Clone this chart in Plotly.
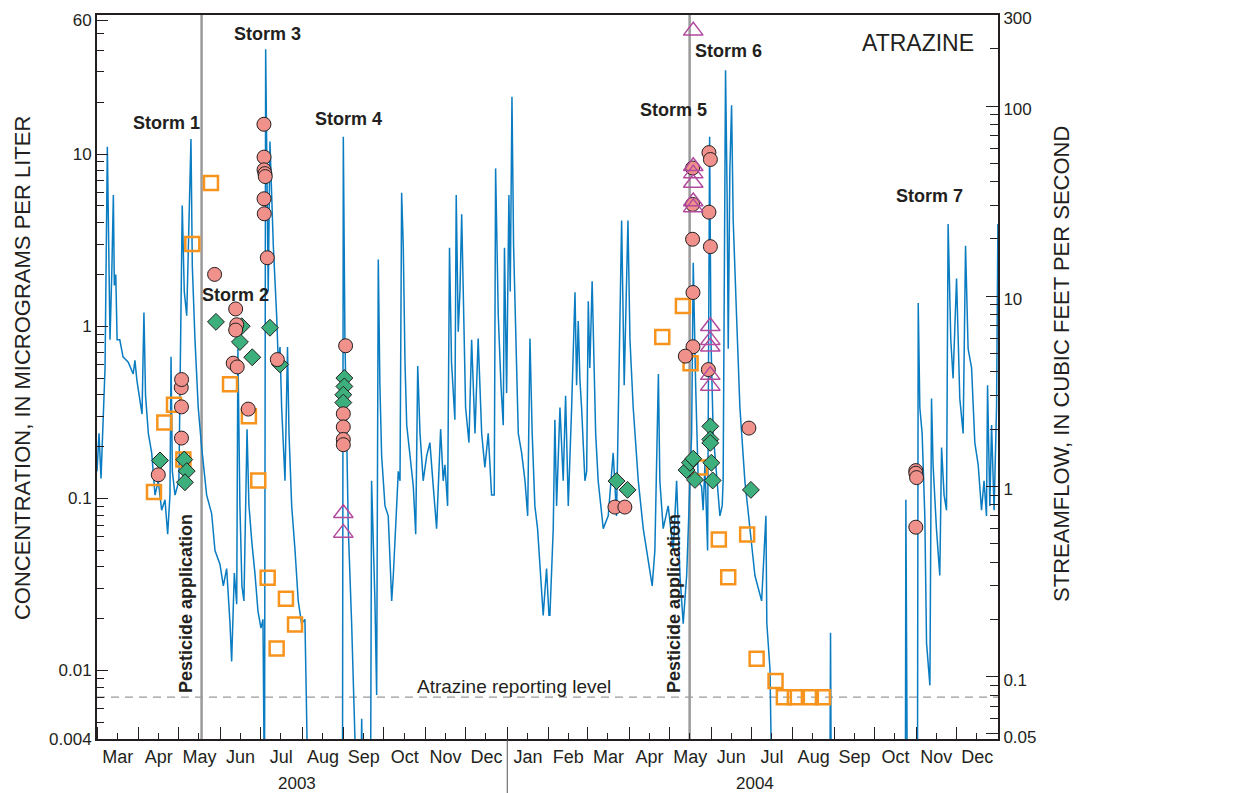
import plotly.graph_objects as go

# ---------------- data ----------------
# Streamflow hydrograph (cubic feet per second); values below the axis floor are off-scale lows
flow_dates = [
    "2003-03-01 00:00", "2003-03-02 12:00", "2003-03-04 00:00", "2003-03-05 17:00", "2003-03-07 00:00",
    "2003-03-08 17:00", "2003-03-10 00:00", "2003-03-10 17:00", "2003-03-12 00:00", "2003-03-13 05:00",
    "2003-03-13 22:00", "2003-03-15 00:00", "2003-03-16 00:00", "2003-03-18 00:00", "2003-03-20 10:00",
    "2003-03-24 07:00", "2003-03-28 00:00", "2003-03-29 07:00", "2003-03-30 19:00", "2003-04-02 00:00",
    "2003-04-03 14:00", "2003-04-05 00:00", "2003-04-06 05:00", "2003-04-08 07:00", "2003-04-10 19:00",
    "2003-04-13 07:00", "2003-04-15 17:00", "2003-04-18 05:00", "2003-04-20 17:00", "2003-04-22 17:00",
    "2003-04-24 10:00", "2003-04-25 05:00", "2003-04-26 05:00", "2003-04-28 05:00", "2003-05-01 02:00",
    "2003-05-03 14:00", "2003-05-05 02:00", "2003-05-06 22:00", "2003-05-08 02:00", "2003-05-10 02:00",
    "2003-05-11 02:00", "2003-05-13 02:00", "2003-05-15 12:00", "2003-05-18 02:00", "2003-05-21 19:00",
    "2003-05-25 12:00", "2003-05-28 00:00", "2003-05-31 17:00", "2003-06-03 05:00", "2003-06-05 17:00",
    "2003-06-08 05:00", "2003-06-09 10:00", "2003-06-11 10:00", "2003-06-13 05:00", "2003-06-14 02:00",
    "2003-06-15 14:00", "2003-06-17 02:00", "2003-06-18 14:00", "2003-06-20 22:00", "2003-06-22 07:00",
    "2003-06-24 14:00", "2003-06-26 19:00", "2003-06-29 02:00", "2003-07-01 07:00", "2003-07-02 19:00",
    "2003-07-03 22:00", "2003-07-04 19:00", "2003-07-05 19:00", "2003-07-06 17:00", "2003-07-08 00:00",
    "2003-07-09 07:00", "2003-07-10 12:00", "2003-07-13 00:00", "2003-07-14 05:00", "2003-07-15 12:00",
    "2003-07-16 17:00", "2003-07-19 05:00", "2003-07-21 02:00", "2003-07-22 05:00", "2003-07-24 05:00",
    "2003-07-26 17:00", "2003-07-29 02:00", "2003-07-31 14:00", "2003-08-03 02:00", "2003-08-05 14:00",
    "2003-08-31 02:00", "2003-08-31 17:00", "2003-09-01 22:00", "2003-09-03 05:00", "2003-09-04 10:00",
    "2003-09-06 22:00", "2003-09-09 10:00", "2003-09-10 22:00", "2003-09-13 12:00", "2003-09-14 10:00",
    "2003-09-15 10:00", "2003-09-21 00:00", "2003-09-21 19:00", "2003-09-23 00:00", "2003-09-24 07:00",
    "2003-09-25 14:00", "2003-09-26 19:00", "2003-09-28 00:00", "2003-09-29 07:00", "2003-10-01 19:00",
    "2003-10-04 05:00", "2003-10-06 19:00", "2003-10-08 00:00", "2003-10-10 12:00", "2003-10-11 17:00",
    "2003-10-13 00:00", "2003-10-14 05:00", "2003-10-15 10:00", "2003-10-16 17:00", "2003-10-18 00:00",
    "2003-10-20 10:00", "2003-10-22 22:00", "2003-10-24 17:00", "2003-10-26 05:00", "2003-10-27 22:00",
    "2003-10-30 07:00", "2003-11-01 22:00", "2003-11-04 07:00", "2003-11-06 19:00", "2003-11-09 07:00",
    "2003-11-12 07:00", "2003-11-14 05:00", "2003-11-15 12:00", "2003-11-17 12:00", "2003-11-18 22:00",
    "2003-11-20 10:00", "2003-11-22 22:00", "2003-11-23 22:00", "2003-11-25 10:00", "2003-11-26 17:00",
    "2003-11-28 00:00", "2003-11-29 05:00", "2003-11-30 22:00", "2003-12-03 10:00", "2003-12-05 10:00",
    "2003-12-07 22:00", "2003-12-10 07:00", "2003-12-12 22:00", "2003-12-15 07:00", "2003-12-17 19:00",
    "2003-12-20 07:00", "2003-12-22 07:00", "2003-12-23 07:00", "2003-12-25 07:00", "2003-12-27 07:00",
    "2003-12-29 00:00", "2003-12-29 22:00", "2003-12-31 12:00", "2004-01-02 05:00", "2004-01-03 05:00",
    "2004-01-04 12:00", "2004-01-05 17:00", "2004-01-07 05:00", "2004-01-09 05:00", "2004-01-11 17:00",
    "2004-01-14 05:00", "2004-01-16 05:00", "2004-01-17 22:00", "2004-01-19 14:00", "2004-01-21 14:00",
    "2004-01-23 14:00", "2004-01-25 07:00", "2004-01-27 19:00", "2004-01-30 07:00", "2004-02-01 02:00",
    "2004-02-01 19:00", "2004-02-04 07:00", "2004-02-05 12:00", "2004-02-06 19:00", "2004-02-09 07:00",
    "2004-02-11 17:00", "2004-02-13 12:00", "2004-02-15 12:00", "2004-02-18 00:00", "2004-02-20 12:00",
    "2004-02-21 17:00", "2004-02-22 22:00", "2004-02-24 05:00", "2004-02-25 10:00", "2004-02-27 22:00",
    "2004-02-29 05:00", "2004-03-01 10:00", "2004-03-02 14:00", "2004-03-04 07:00", "2004-03-06 22:00",
    "2004-03-08 19:00", "2004-03-12 14:00", "2004-03-16 07:00", "2004-03-20 00:00", "2004-03-22 12:00",
    "2004-03-26 07:00", "2004-03-28 05:00", "2004-03-31 00:00", "2004-04-01 12:00", "2004-04-03 22:00",
    "2004-04-07 17:00", "2004-04-11 10:00", "2004-04-15 02:00", "2004-04-18 02:00", "2004-04-20 02:00",
    "2004-04-22 17:00", "2004-04-23 19:00", "2004-04-26 07:00", "2004-04-30 00:00", "2004-05-03 19:00",
    "2004-05-06 07:00", "2004-05-08 19:00", "2004-05-11 05:00", "2004-05-13 19:00", "2004-05-17 12:00",
    "2004-05-18 17:00", "2004-05-20 12:00", "2004-05-22 10:00", "2004-05-24 22:00", "2004-05-26 02:00",
    "2004-05-27 10:00", "2004-05-29 10:00", "2004-05-30 22:00", "2004-05-31 22:00", "2004-06-02 14:00",
    "2004-06-05 02:00", "2004-06-07 14:00", "2004-06-09 07:00", "2004-06-10 00:00", "2004-06-11 19:00",
    "2004-06-13 00:00", "2004-06-13 19:00", "2004-06-15 00:00", "2004-06-16 07:00", "2004-06-17 12:00",
    "2004-06-20 00:00", "2004-06-22 12:00", "2004-06-26 05:00", "2004-06-29 22:00", "2004-07-03 17:00",
    "2004-07-08 17:00", "2004-07-11 22:00", "2004-07-12 14:00", "2004-07-14 22:00", "2004-07-16 14:00",
    "2004-08-28 14:00", "2004-08-29 02:00", "2004-08-29 17:00", "2004-10-23 22:00", "2004-10-24 07:00",
    "2004-10-25 10:00", "2004-11-01 22:00", "2004-11-02 12:00", "2004-11-03 17:00", "2004-11-05 10:00",
    "2004-11-07 10:00", "2004-11-08 17:00", "2004-11-11 05:00", "2004-11-12 10:00", "2004-11-13 14:00",
    "2004-11-16 02:00", "2004-11-18 14:00", "2004-11-19 22:00", "2004-11-21 19:00", "2004-11-23 14:00",
    "2004-11-24 19:00", "2004-11-26 19:00", "2004-11-28 12:00", "2004-12-01 02:00", "2004-12-03 12:00",
    "2004-12-06 00:00", "2004-12-07 19:00", "2004-12-09 17:00", "2004-12-12 07:00", "2004-12-14 17:00",
    "2004-12-17 05:00", "2004-12-19 17:00", "2004-12-21 14:00", "2004-12-23 10:00", "2004-12-24 05:00",
    "2004-12-25 22:00", "2004-12-27 05:00", "2004-12-29 02:00", "2004-12-30 22:00", "2004-12-31 22:00",
]
flow_cfs = [
    1.2, 1.9, 1.1, 2.2, 4.2,
    61, 10.6, 5.9, 13, 34,
    11.4, 13, 5.9, 5.9, 4.8,
    4.5, 3.9, 4.6, 3.6, 2.8,
    2.4, 8.2, 3.0, 1.9, 1.5,
    0.9, 1.07, 0.75, 0.85, 0.56,
    0.9, 4.8, 1.2, 0.9, 1.07,
    30, 10.6, 7.9, 18, 67,
    14.4, 5.9, 2.6, 1.6, 0.9,
    0.72, 0.46, 0.39, 0.3, 0.37,
    0.19, 0.12, 0.35, 0.24, 5.3,
    0.8, 0.3, 0.25, 2.0, 0.8,
    0.5, 0.35, 0.22, 0.18, 0.2,
    0.02, 199, 46, 10.6, 65,
    32.6, 18.4, 7.9, 4.5, 5.4,
    2.6, 1.07, 5.4, 1.9, 0.79,
    0.46, 0.25, 0.19, 0.2, 0.02,
    0.02, 69, 5.9, 1.9, 0.6,
    0.19, 0.06, 0.02, 0.02, 0.06,
    0.02, 0.02, 1.07, 0.6, 0.25,
    0.08, 15.6, 3.4, 1.45, 0.79,
    0.7, 0.25, 0.34, 0.79, 1.2,
    1.07, 35, 18.4, 4.5, 2.1,
    1.5, 1.0, 0.56, 4.3, 1.9,
    1.07, 1.45, 1.7, 1.0, 0.6,
    2.0, 1.07, 1.3, 0.79, 18,
    4.5, 2.24, 34, 6.5, 10.6,
    27, 10.6, 2.6, 1.7, 5.9,
    1.9, 6.0, 1.9, 1.26, 1.9,
    0.9, 0.9, 47, 7.9, 3.4,
    2.1, 18, 3.1, 34, 10.6,
    112, 18.4, 5.9, 1.9, 1.5,
    1.07, 0.7, 6.0, 1.9, 0.79,
    0.6, 0.39, 0.21, 0.37, 0.21,
    0.21, 0.6, 2.24, 0.79, 2.6,
    1.07, 3.0, 0.79, 2.6, 10.5,
    3.4, 7.4, 3.6, 2.6, 1.07,
    1.2, 9.4, 4.2, 12, 1.9,
    1.07, 0.6, 0.7, 1.5, 0.7,
    25, 3.4, 25, 5.9, 2.6,
    1.07, 0.6, 0.41, 0.3, 0.46,
    3.9, 1.07, 0.6, 0.79, 0.46,
    1.07, 0.34, 0.19, 0.34, 1.9,
    15, 3.4, 1.07, 1.0, 0.75,
    1.3, 0.46, 69, 5.9, 1.9,
    1.2, 0.7, 0.79, 1.07, 154,
    32.6, 5.3, 46, 101, 25,
    7.9, 2.6, 1.07, 0.6, 0.34,
    0.25, 0.7, 0.19, 0.11, 0.02,
    0.02, 0.17, 0.02, 0.02, 0.85,
    0.02, 0.02, 9.2, 2.6, 1.9,
    0.7, 0.15, 0.09, 2.9, 1.3,
    0.6, 0.34, 1.6, 0.9, 0.75,
    24, 5.9, 3.7, 12.4, 2.9,
    1.9, 18.4, 5.3, 4.2, 1.7,
    1.3, 0.75, 1.07, 0.7, 3.4,
    0.79, 2.1, 0.75, 2.6, 24,
]

# Atrazine concentrations (micrograms per liter), four sample groups
circle_dates = [
    "2003-04-15 17:00", "2003-05-03 00:00", "2003-05-03 00:00", "2003-05-02 20:00", "2003-05-03 02:00",
    "2003-05-27 17:00", "2003-06-12 10:00", "2003-06-13 05:00", "2003-06-12 10:00", "2003-06-10 14:00",
    "2003-06-13 14:00", "2003-06-21 19:00",
    "2003-07-03 12:00", "2003-07-03 14:00", "2003-07-03 14:00", "2003-07-04 06:00", "2003-07-04 12:00",
    "2003-07-03 14:00", "2003-07-03 18:00", "2003-07-06 00:00", "2003-07-13 12:00",
    "2003-08-31 17:00", "2003-08-31 17:00", "2003-08-31 17:00", "2003-08-31 17:00", "2003-09-02 10:00",
    "2004-03-21 07:00", "2004-03-28 17:00",
    "2004-05-18 05:00", "2004-05-18 05:00", "2004-05-18 05:00", "2004-05-18 12:00", "2004-05-18 12:00",
    "2004-05-12 19:00",
    "2004-05-30 10:00", "2004-05-31 12:00", "2004-05-30 10:00", "2004-05-31 12:00", "2004-05-30 00:00",
    "2004-06-29 05:00",
    "2004-10-31 17:00", "2004-10-31 17:00", "2004-11-01 06:00", "2004-10-31 17:00",
]
circle_conc = [
    0.137, 0.224, 0.34, 0.44, 0.49,
    2.0, 1.26, 1.02, 0.95, 0.61,
    0.58, 0.33,
    14.9, 9.6, 8.1, 7.7, 7.4,
    5.5, 4.5, 2.5, 0.64,
    0.31, 0.26, 0.22, 0.205, 0.77,
    0.089, 0.089,
    8.3, 5.1, 3.2, 1.57, 0.76,
    0.67,
    10.2, 9.3, 4.6, 2.9, 0.56,
    0.256,
    0.145, 0.14, 0.132, 0.068,
]

diamond_dates = [
    "2003-04-17 00:00", "2003-05-05 02:00", "2003-05-06 22:00", "2003-05-05 14:00",
    "2003-05-28 17:00", "2003-06-15 14:00", "2003-06-16 22:00", "2003-06-24 19:00",
    "2003-07-08 00:00", "2003-07-15 12:00",
    "2003-09-01 12:00", "2003-09-01 12:00", "2003-08-31 17:00", "2003-08-31 17:00",
    "2004-03-22 12:00", "2004-03-30 17:00",
    "2004-05-13 17:00", "2004-05-16 05:00", "2004-05-18 17:00", "2004-05-20 00:00",
    "2004-05-31 10:00", "2004-05-31 10:00", "2004-05-31 10:00", "2004-06-01 05:00", "2004-06-02 05:00",
    "2004-06-30 17:00",
]
diamond_conc = [
    0.166, 0.168, 0.144, 0.124,
    1.06, 0.81, 1.0, 0.66,
    0.98, 0.6,
    0.5, 0.447, 0.4, 0.36,
    0.126, 0.112,
    0.146, 0.161, 0.17, 0.128,
    0.262, 0.22, 0.21, 0.161, 0.127,
    0.112,
]

square_dates = [
    "2003-04-12 12:00", "2003-04-20 05:00", "2003-04-27 10:00", "2003-05-04 10:00", "2003-05-11 02:00",
    "2003-05-25 00:00", "2003-06-08 05:00", "2003-06-22 07:00", "2003-06-29 07:00", "2003-07-06 07:00",
    "2003-07-13 00:00", "2003-07-19 22:00", "2003-07-26 17:00",
    "2004-04-25 14:00", "2004-05-11 00:00", "2004-05-16 17:00", "2004-05-23 17:00", "2004-06-06 19:00",
    "2004-06-13 19:00", "2004-06-27 22:00", "2004-07-05 00:00", "2004-07-19 02:00", "2004-07-25 07:00",
    "2004-08-02 12:00", "2004-08-14 10:00", "2004-08-23 10:00",
]
square_conc = [
    0.109, 0.276, 0.35, 0.168, 3.0,
    6.8, 0.46, 0.30, 0.127, 0.0346,
    0.0134, 0.0261, 0.0185,
    0.865, 1.31, 0.61, 0.151, 0.0577,
    0.0348, 0.0616, 0.0117, 0.0087, 0.007,
    0.007, 0.007, 0.007,
]

triangle_dates = [
    "2003-08-31 17:00", "2003-08-31 17:00",
    "2004-05-18 17:00", "2004-05-18 17:00", "2004-05-18 17:00", "2004-05-18 17:00", "2004-05-18 17:00",
    "2004-05-18 17:00",
    "2004-05-31 10:00", "2004-05-31 10:00", "2004-05-31 10:00", "2004-05-31 10:00", "2004-05-31 10:00",
]
triangle_conc = [
    0.082, 0.063,
    52, 8.5, 7.7, 6.8, 5.3,
    4.9,
    1.0, 0.83, 0.76, 0.52, 0.45,
]

pesticide_dates = ["2003-05-18", "2004-05-16"]
reporting_level = 0.007
storm_labels = ["Storm 1", "Storm 2", "Storm 3", "Storm 4", "Storm 5", "Storm 6", "Storm 7"]
year_labels = ["2003", "2004"]

conc_ticks = [0.004, 0.01, 0.1, 1, 10, 60]
conc_minor = [0.005, 0.006, 0.007, 0.008, 0.009,
              0.02, 0.03, 0.04, 0.05, 0.06, 0.07, 0.08, 0.09,
              0.2, 0.3, 0.4, 0.5, 0.6, 0.7, 0.8, 0.9,
              2, 3, 4, 5, 6, 7, 8, 9, 20, 30, 40, 50]
flow_ticks = [0.05, 0.1, 1, 10, 100, 300]
flow_minor = [0.06, 0.07, 0.08, 0.09,
              0.2, 0.3, 0.4, 0.5, 0.6, 0.7, 0.8, 0.9,
              2, 3, 4, 5, 6, 7, 8, 9,
              20, 30, 40, 50, 60, 70, 80, 90, 200]

# ---------------- styles ----------------
INK = "#231F20"
BLUE = "#0A7CC1"
PINK = "#F0918B"
GREEN = "#3DAF7C"
ORANGE = "#F7941D"
PURPLE = "#B24A9E"
GRAY = "#9A9A9A"
SANS = "Liberation Sans, Arial, sans-serif"

fig = go.Figure()

# hydrograph on base axis (drawn beneath the overlaying concentration axis)
fig.add_trace(go.Scatter(x=flow_dates, y=flow_cfs, mode="lines", yaxis="y",
                         line=dict(color=BLUE, width=1.5), showlegend=False, hoverinfo="skip"))

fig.add_trace(go.Scatter(x=square_dates, y=square_conc, mode="markers", yaxis="y2",
                         marker=dict(symbol="square-open", size=14, color=ORANGE, line=dict(width=2.5, color=ORANGE)),
                         showlegend=False))
fig.add_trace(go.Scatter(x=diamond_dates, y=diamond_conc, mode="markers", yaxis="y2",
                         marker=dict(symbol="diamond", size=13, color=GREEN, line=dict(width=1, color=INK)),
                         showlegend=False))
fig.add_trace(go.Scatter(x=circle_dates, y=circle_conc, mode="markers", yaxis="y2",
                         marker=dict(symbol="circle", size=14, color=PINK, line=dict(width=1, color=INK)),
                         showlegend=False))
fig.add_trace(go.Scatter(x=triangle_dates, y=triangle_conc, mode="markers", yaxis="y2",
                         marker=dict(symbol="triangle-up-open", size=17, color=PURPLE, line=dict(width=1.5, color=PURPLE)),
                         showlegend=False))

shapes = []
for d in pesticide_dates:
    shapes.append(dict(type="line", xref="x", yref="paper", x0=d, x1=d, y0=0, y1=1,
                       line=dict(color=GRAY, width=2.5), layer="below"))
shapes.append(dict(type="line", xref="paper", yref="y2", x0=0, x1=1, y0=reporting_level, y1=reporting_level,
                   line=dict(color=GRAY, width=1.2, dash="8px,6px"), layer="below"))
# year divider below the axis
shapes.append(dict(type="line", xref="x", yref="paper", x0="2004-01-01", x1="2004-01-01", y0=0, y1=-0.075,
                   line=dict(color="#555555", width=1)))

annotations = []
storm_pos = [(0.0766, 0.8508), (0.1532, 0.6139), (0.1887, 0.9738), (0.2786, 0.8557),
             (0.6393, 0.8681), (0.7014, 0.9503), (0.9245, 0.750)]
for lab, (px, py) in zip(storm_labels, storm_pos):
    annotations.append(dict(text="<b>" + lab + "</b>", x=px, y=py, xref="paper", yref="paper",
                            xanchor="center", yanchor="middle",
                            showarrow=False, font=dict(family=SANS, size=18, color=INK)))
annotations.append(dict(text="ATRAZINE", x=0.9112, y=0.9613, xref="paper", yref="paper", showarrow=False,
                        xanchor="center", yanchor="middle",
                        font=dict(family=SANS, size=23, color=INK)))
annotations.append(dict(text="Atrazine reporting level", x=0.4628, y=0.0732, xref="paper", yref="paper",
                        xanchor="center", yanchor="middle",
                        showarrow=False, font=dict(family=SANS, size=19, color=INK)))
for d in pesticide_dates:
    annotations.append(dict(text="<b>Pesticide application</b>", x=d, y=0.0608, xref="x", yref="paper",
                            xanchor="right", yanchor="bottom", xshift=-3, textangle=-90, showarrow=False,
                            font=dict(family=SANS, size=18, color=INK)))
annotations.append(dict(text="CONCENTRATION, IN MICROGRAMS PER LITER", x=-0.0832, y=0.5124,
                        xref="paper", yref="paper", textangle=-90, showarrow=False,
                        xanchor="center", yanchor="middle",
                        font=dict(family=SANS, size=22, color=INK)))
annotations.append(dict(text="STREAMFLOW, IN CUBIC FEET PER SECOND", x=1.071, y=0.518,
                        xref="paper", yref="paper", textangle=-90, showarrow=False,
                        xanchor="center", yanchor="middle",
                        font=dict(family=SANS, size=22, color=INK)))
for lab, px in zip(year_labels, [0.222, 0.7303]):
    annotations.append(dict(text=lab, x=px, y=-0.0608, xref="paper", yref="paper", showarrow=False,
                            xanchor="center", yanchor="middle",
                            font=dict(family=SANS, size=17, color=INK)))

fig.update_layout(
    width=1240, height=785, autosize=False,
    margin=dict(l=89, r=250, t=7, b=54, autoexpand=False),
    plot_bgcolor="white", paper_bgcolor="white",
    showlegend=False,
    shapes=shapes, annotations=annotations,
    xaxis=dict(type="date", range=["2003-03-01", "2005-01-01"], automargin=False, ticklabeloverflow="allow",
               tick0="2003-03-01", dtick="M1", tickformat="%b", ticklabelmode="period",
               ticks="inside", ticklen=12, tickwidth=1.2, tickcolor=INK,
               minor=dict(tick0="2003-03-16", dtick="M1", ticks="inside", ticklen=6, tickwidth=1.2, tickcolor=INK),
               showline=True, linecolor=INK, linewidth=2, mirror=True, showgrid=False, zeroline=False,
               tickfont=dict(family=SANS, size=18, color=INK)),
    yaxis=dict(type="log", side="right", range=[-1.328, 2.4785], automargin=False, ticklabeloverflow="allow",
               ticklabelshift=3,
               tickmode="array", tickvals=flow_ticks, ticktext=[str(v) for v in flow_ticks],
               ticks="inside", ticklen=12, tickwidth=1.2, tickcolor=INK,
               minor=dict(tickmode="array", tickvals=flow_minor, ticks="inside", ticklen=8, tickwidth=1.2, tickcolor=INK),
               showline=True, linecolor=INK, linewidth=2, showgrid=False, zeroline=False,
               tickfont=dict(family=SANS, size=17, color=INK)),
    yaxis2=dict(type="log", side="left", overlaying="y", range=[-2.398, 1.808], automargin=False,
                ticklabeloverflow="allow",
                tickmode="array", tickvals=conc_ticks, ticktext=[str(v) for v in conc_ticks],
                ticks="inside", ticklen=11, tickwidth=1.2, tickcolor=INK,
                minor=dict(tickmode="array", tickvals=conc_minor, ticks="inside", ticklen=7, tickwidth=1.2, tickcolor=INK),
                showline=True, linecolor=INK, linewidth=2, showgrid=False, zeroline=False,
                tickfont=dict(family=SANS, size=17, color=INK)),
)

fig.write_html("out.html")
